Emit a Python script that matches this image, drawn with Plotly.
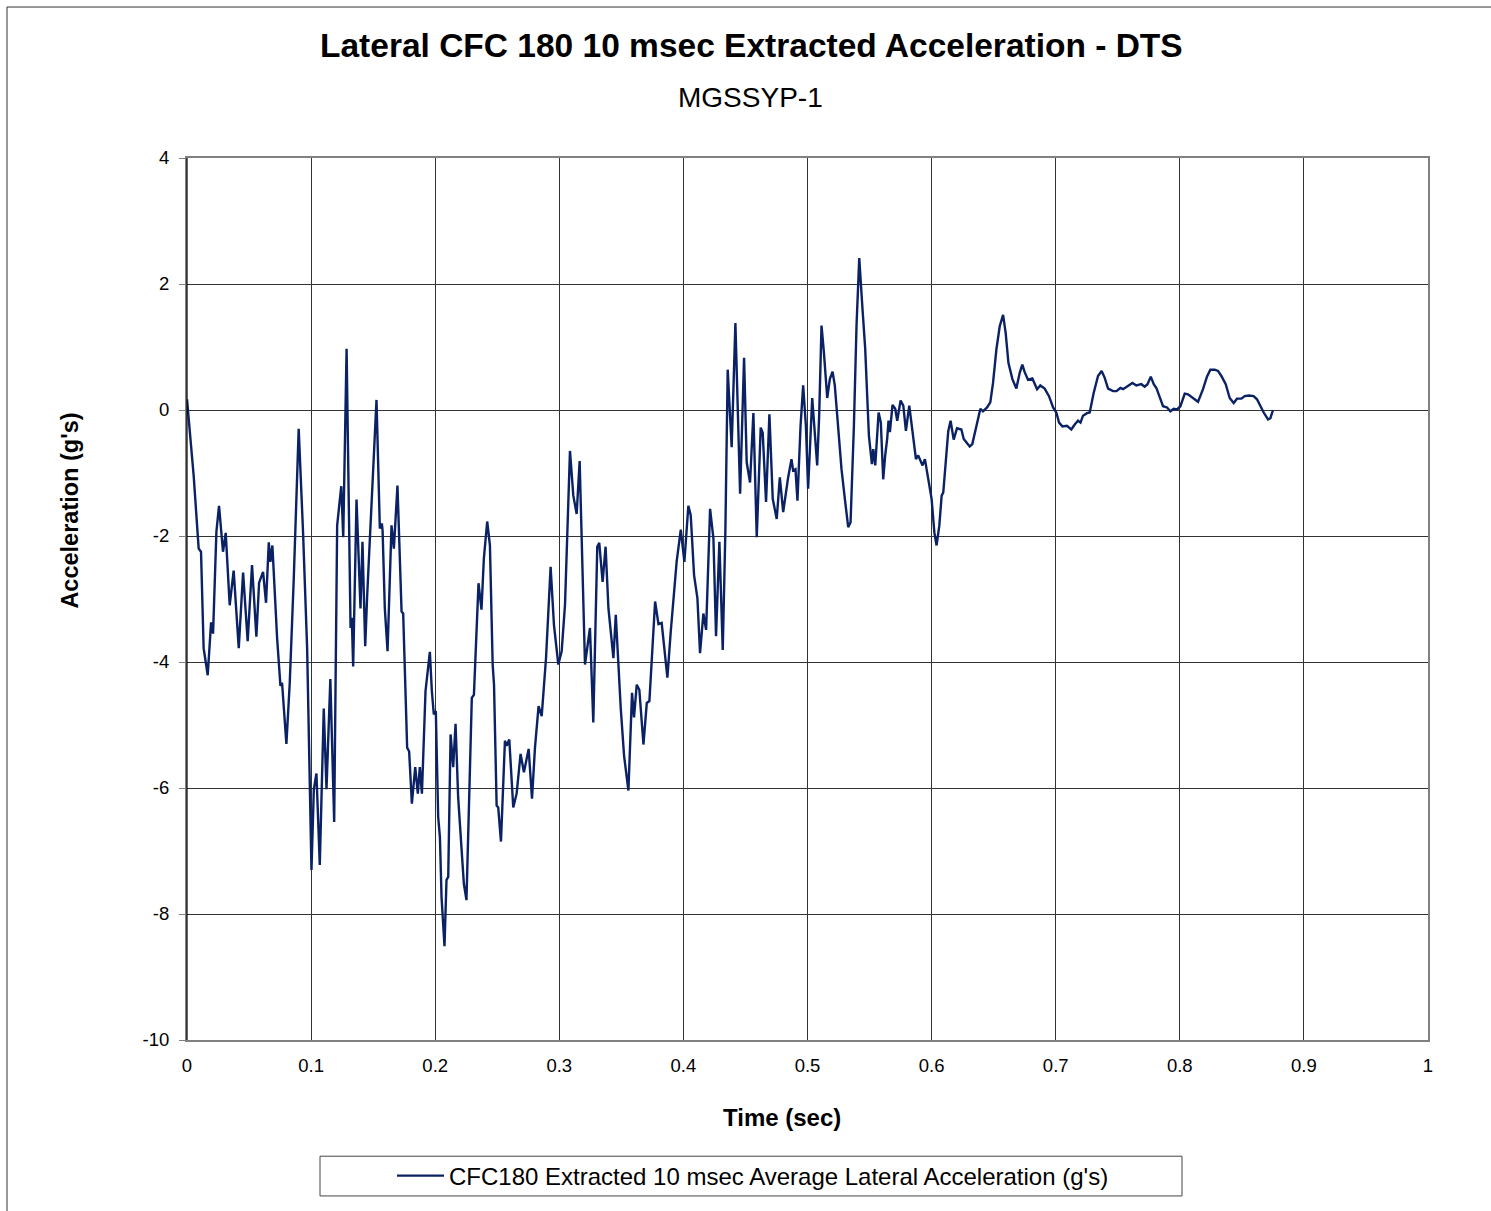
import plotly.graph_objects as go

time_s = [
    0.0, 0.0054, 0.0094, 0.0113, 0.0134, 0.0167, 0.0194, 0.021, 0.0237, 0.0258,
    0.029, 0.0312, 0.0344, 0.0376, 0.0417, 0.0452, 0.0489, 0.0524, 0.0559, 0.0581,
    0.0613, 0.0637, 0.0659, 0.0672, 0.0688, 0.0726, 0.0753, 0.0766, 0.0801, 0.0828,
    0.086, 0.09, 0.0935, 0.0968, 0.1003, 0.1022, 0.1043, 0.107, 0.1102, 0.1124,
    0.1155, 0.1186, 0.121, 0.1243, 0.1259, 0.1286, 0.1318, 0.1328, 0.1339, 0.1366,
    0.1398, 0.1414, 0.1436, 0.1452, 0.1527, 0.1554, 0.157, 0.1576, 0.1594, 0.1616,
    0.1648, 0.1667, 0.1696, 0.1729, 0.1742, 0.1774, 0.179, 0.1812, 0.1839, 0.186,
    0.1876, 0.1893, 0.1922, 0.1957, 0.1973, 0.1989, 0.2005, 0.2024, 0.2038, 0.2051,
    0.2075, 0.2091, 0.2105, 0.2124, 0.2145, 0.2164, 0.2185, 0.2204, 0.2231, 0.2252,
    0.2274, 0.2295, 0.2312, 0.2349, 0.2373, 0.2392, 0.2419, 0.2441, 0.2463, 0.2474,
    0.2495, 0.2508, 0.253, 0.2562, 0.2576, 0.2597, 0.2629, 0.2656, 0.2688, 0.2715,
    0.2753, 0.278, 0.2804, 0.2833, 0.2858, 0.2893, 0.293, 0.2957, 0.2992, 0.3019,
    0.3046, 0.3086, 0.3113, 0.314, 0.3164, 0.318, 0.3207, 0.3247, 0.3274, 0.3306,
    0.3322, 0.3349, 0.3373, 0.3396, 0.3436, 0.3455, 0.3495, 0.3522, 0.3557, 0.3586,
    0.3602, 0.3624, 0.3645, 0.3678, 0.3705, 0.3726, 0.3745, 0.3772, 0.3799, 0.3825,
    0.3871, 0.3898, 0.3946, 0.3979, 0.4008, 0.404, 0.4059, 0.4086, 0.4113, 0.4134,
    0.4161, 0.4183, 0.4215, 0.4242, 0.4263, 0.429, 0.4317, 0.4338, 0.4357, 0.4389,
    0.4419, 0.4435, 0.4457, 0.4489, 0.451, 0.4537, 0.4564, 0.4591, 0.4623, 0.4639,
    0.4666, 0.4693, 0.472, 0.4752, 0.4777, 0.4804, 0.4825, 0.4844, 0.4871, 0.4884,
    0.4903, 0.4919, 0.4944, 0.4965, 0.4987, 0.5005, 0.5038, 0.5056, 0.5078, 0.5094,
    0.5113, 0.5132, 0.5159, 0.518, 0.5202, 0.522, 0.5247, 0.5274, 0.5301, 0.5328,
    0.5347, 0.5374, 0.5395, 0.5417, 0.5444, 0.5465, 0.5481, 0.5495, 0.5519, 0.553,
    0.5546, 0.5573, 0.5591, 0.561, 0.5626, 0.5642, 0.5653, 0.5664, 0.5685, 0.5707,
    0.5723, 0.575, 0.5772, 0.5793, 0.582, 0.5847, 0.5874, 0.5892, 0.5927, 0.5946,
    0.5973, 0.6, 0.6022, 0.604, 0.6062, 0.6081, 0.6094, 0.6116, 0.6134, 0.6153,
    0.6178, 0.6205, 0.624, 0.6259, 0.6307, 0.6328, 0.6361, 0.6393, 0.6414, 0.6447,
    0.6473, 0.6495, 0.6522, 0.6549, 0.6576, 0.6597, 0.6619, 0.6651, 0.6683, 0.671,
    0.6731, 0.675, 0.6777, 0.6812, 0.685, 0.6876, 0.6911, 0.6946, 0.6979, 0.7005,
    0.7027, 0.7054, 0.709, 0.7126, 0.7153, 0.718, 0.72, 0.722, 0.7252, 0.7274,
    0.7306, 0.7341, 0.737, 0.7395, 0.7422, 0.7462, 0.749, 0.7521, 0.7543, 0.757,
    0.7618, 0.765, 0.769, 0.7717, 0.774, 0.7766, 0.779, 0.7811, 0.7838, 0.7865,
    0.7897, 0.7924, 0.7951, 0.7978, 0.8005, 0.804, 0.8066, 0.8107, 0.8147, 0.8187,
    0.8219, 0.8246, 0.8281, 0.8308, 0.8335, 0.837, 0.8402, 0.8434, 0.8461, 0.8496,
    0.8523, 0.8558, 0.8595, 0.8622, 0.8649, 0.8676, 0.8711, 0.873, 0.8751,
]

accel_g = [
    0.17, -1.05, -2.2, -2.25, -3.78, -4.21, -3.37, -3.55, -1.93, -1.52,
    -2.25, -1.95, -3.1, -2.55, -3.78, -2.58, -3.67, -2.46, -3.6, -2.74,
    -2.57, -3.06, -2.1, -2.41, -2.15, -3.62, -4.38, -4.33, -5.3, -4.33,
    -2.69, -0.3, -1.93, -3.78, -7.3, -6.02, -5.77, -7.22, -4.74, -6.02,
    -4.27, -6.54, -1.83, -1.21, -2.02, 0.97, -3.46, -3.3, -4.07, -1.42,
    -3.15, -2.09, -3.75, -2.94, 0.16, -1.88, -1.8, -1.91, -3.15, -3.83,
    -1.83, -2.2, -1.2, -3.2, -3.23, -5.36, -5.42, -6.25, -5.67, -6.09,
    -5.67, -6.09, -4.46, -3.84, -4.46, -4.83, -4.78, -6.46, -6.78, -7.73,
    -8.51, -7.46, -7.41, -5.15, -5.67, -4.98, -6.15, -6.77, -7.52, -7.78,
    -5.88, -4.57, -4.52, -2.75, -3.17, -2.36, -1.77, -2.15, -4.04, -4.36,
    -6.28, -6.31, -6.85, -5.25, -5.33, -5.23, -6.31, -6.09, -5.46, -5.75,
    -5.38, -6.17, -5.36, -4.7, -4.86, -3.94, -2.49, -3.41, -4.04, -3.83,
    -3.09, -0.65, -1.36, -1.65, -0.81, -1.99, -4.04, -3.46, -4.96, -2.17,
    -2.11, -2.73, -2.17, -3.15, -3.94, -3.25, -4.73, -5.49, -6.04, -4.49,
    -4.88, -4.36, -4.44, -5.31, -4.65, -4.62, -3.99, -3.04, -3.4, -3.38,
    -4.25, -3.52, -2.4, -1.9, -2.41, -1.52, -1.67, -2.62, -2.99, -3.86,
    -3.23, -3.49, -1.57, -2.04, -3.59, -2.09, -3.81, -1.94, 0.64, -0.59,
    1.38, 0.17, -1.33, 0.83, -0.83, -1.15, -0.05, -2.02, -0.28, -0.36,
    -1.46, -0.07, -1.41, -1.73, -1.07, -1.62, -1.31, -1.07, -0.78, -0.96,
    -0.94, -1.44, -0.25, 0.39, -0.25, -1.25, 0.19, -0.25, -0.88, -0.09,
    1.34, 0.92, 0.19, 0.49, 0.61, 0.39, -0.35, -0.94, -1.41, -1.86,
    -1.78, -0.25, 1.34, 2.41, 1.58, 0.97, 0.23, -0.41, -0.86, -0.62,
    -0.88, -0.04, -0.2, -1.1, -0.72, -0.46, -0.17, -0.35, 0.08, 0.02,
    -0.17, 0.15, 0.07, -0.33, 0.07, -0.35, -0.78, -0.72, -0.88, -0.78,
    -1.07, -1.41, -1.94, -2.15, -1.84, -1.36, -1.31, -0.78, -0.34, -0.17,
    -0.47, -0.29, -0.31, -0.46, -0.58, -0.54, -0.25, 0.02, -0.02, 0.04,
    0.12, 0.43, 0.96, 1.33, 1.51, 1.22, 0.75, 0.49, 0.34, 0.59,
    0.72, 0.6, 0.48, 0.5, 0.33, 0.39, 0.34, 0.22, 0.04, -0.04,
    -0.2, -0.26, -0.25, -0.31, -0.23, -0.17, -0.2, -0.09, -0.05, -0.04,
    0.27, 0.54, 0.62, 0.51, 0.34, 0.3, 0.3, 0.35, 0.33, 0.37,
    0.43, 0.39, 0.41, 0.37, 0.41, 0.53, 0.41, 0.35, 0.22, 0.06,
    0.04, -0.02, 0.02, 0.01, 0.06, 0.26, 0.25, 0.19, 0.13, 0.33,
    0.53, 0.64, 0.64, 0.62, 0.54, 0.41, 0.19, 0.11, 0.18, 0.18,
    0.22, 0.23, 0.22, 0.17, 0.06, -0.04, -0.15, -0.13, 0.0,
]

x_ticks = [0, 0.1, 0.2, 0.3, 0.4, 0.5, 0.6, 0.7, 0.8, 0.9, 1]
x_tick_labels = ["0", "0.1", "0.2", "0.3", "0.4", "0.5", "0.6", "0.7", "0.8", "0.9", "1"]
y_ticks = [4, 2, 0, -2, -4, -6, -8, -10]
y_tick_labels = ["4", "2", "0", "-2", "-4", "-6", "-8", "-10"]

title_text = "Lateral CFC 180 10 msec Extracted Acceleration - DTS"
subtitle_text = "MGSSYP-1"
x_title = "Time (sec)"
y_title = "Acceleration (g's)"
series_name = "CFC180 Extracted 10 msec Average Lateral Acceleration (g's)"

W, H = 1491, 1211
L, R, T, B = 187, 1428, 158, 1046


def px(xp):
    return (xp - L) / (R - L)


def py(yp):
    return (B - yp) / (B - T)


FONT = "Liberation Sans, Arial, sans-serif"
LINE_COLOR = "#0a2265"

fig = go.Figure()
fig.add_trace(go.Scatter(
    x=time_s, y=accel_g, mode="lines", name=series_name,
    line=dict(color=LINE_COLOR, width=2.4),
))

fig.update_layout(
    width=W, height=H,
    margin=dict(l=L, r=W - R, t=T, b=H - B, pad=0),
    paper_bgcolor="white", plot_bgcolor="white",
    font=dict(family=FONT, color="black", size=18),
    showlegend=True,
    legend=dict(
        x=px(392), y=py(1183), xanchor="left", yanchor="middle",
        orientation="h", bgcolor="rgba(0,0,0,0)", borderwidth=0,
        itemwidth=47,
        font=dict(family=FONT, size=24, color="black"),
    ),
)

fig.update_xaxes(
    range=[0, 1], tickvals=x_ticks, ticktext=x_tick_labels,
    showgrid=True, gridcolor="#333333", gridwidth=1,
    zeroline=False, showline=True, linecolor="#808080", linewidth=2, mirror=True,
    ticks="", ticklabelstandoff=8,
    tickfont=dict(family=FONT, size=18.5, color="black"),
)
fig.update_yaxes(
    range=[-10, 4], tickvals=y_ticks, ticktext=y_tick_labels,
    showgrid=True, gridcolor="#333333", gridwidth=1,
    zeroline=False, showline=True, linecolor="#808080", linewidth=2, mirror=True,
    ticks="outside", ticklen=6, tickcolor="#808080", ticklabelstandoff=6,
    tickfont=dict(family=FONT, size=18.5, color="black"),
)

# left axis line
fig.add_shape(type="line", xref="paper", yref="paper", x0=0, x1=0, y0=0, y1=1,
              line=dict(color="black", width=1.2))

# outer chart border (left and top edges visible)
fig.add_shape(type="line", xref="paper", yref="paper",
              x0=px(7), x1=px(7), y0=py(1300), y1=py(6),
              line=dict(color="#333333", width=1), layer="below")
fig.add_shape(type="line", xref="paper", yref="paper",
              x0=px(7), x1=px(1600), y0=py(6), y1=py(6),
              line=dict(color="#333333", width=1), layer="below")

# legend box
fig.add_shape(type="rect", xref="paper", yref="paper",
              x0=px(320), x1=px(1182), y0=py(1203), y1=py(1163),
              line=dict(color="#444444", width=1))

fig.add_annotation(text="<b>" + title_text + "</b>", xref="paper", yref="paper",
                   x=px(751), y=py(45), showarrow=False, xanchor="center", yanchor="middle",
                   font=dict(family=FONT, size=33.5, color="black"))
fig.add_annotation(text=subtitle_text, xref="paper", yref="paper",
                   x=px(750), y=py(97), showarrow=False, xanchor="center", yanchor="middle",
                   font=dict(family=FONT, size=28, color="black"))
fig.add_annotation(text="<b>" + x_title + "</b>", xref="paper", yref="paper",
                   x=px(782), y=py(1124), showarrow=False, xanchor="center", yanchor="middle",
                   font=dict(family=FONT, size=24, color="black"))
fig.add_annotation(text="<b>" + y_title + "</b>", xref="paper", yref="paper",
                   x=px(70), y=py(513), showarrow=False, xanchor="center", yanchor="middle",
                   textangle=-90, font=dict(family=FONT, size=23.5, color="black"))

fig.write_html("out.html", config={"displayModeBar": False},
               post_script="document.body.style.margin='0';")
